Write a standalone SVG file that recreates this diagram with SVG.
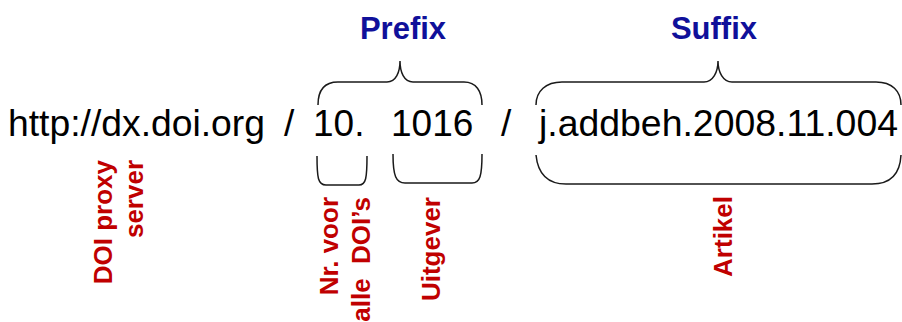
<svg xmlns="http://www.w3.org/2000/svg" width="902" height="322" viewBox="0 0 902 322">
<style>
.main{font-family:"Liberation Sans",Arial,sans-serif;font-size:37px;fill:#000}
.head{font-family:"Liberation Sans",Arial,sans-serif;font-size:31px;font-weight:bold;fill:#10109A;text-anchor:middle}
.lab{font-family:"Liberation Sans",Arial,sans-serif;font-size:26px;font-weight:bold;fill:#C00000;text-anchor:end}
.brace{fill:none;stroke:#1a1a1a;stroke-width:1.5}
</style>
<rect width="902" height="322" fill="#fff"/>
<g id="url">
<text class="main" x="8" y="136" textLength="257" lengthAdjust="spacingAndGlyphs">http://dx.doi.org</text>
<text class="main" x="284" y="136">/</text>
<text class="main" x="313" y="136">10.</text>
<text class="main" x="391" y="136">1016</text>
<text class="main" x="501" y="136">/</text>
<text class="main" x="539" y="136" textLength="359" lengthAdjust="spacingAndGlyphs">j.addbeh.2008.11.004</text>
</g>
<g id="prefix"><text class="head" x="403" y="39">Prefix</text></g>
<g id="suffix"><text class="head" x="714" y="39">Suffix</text></g>
<g id="proxy"><text class="lab" transform="translate(112,160) rotate(-90)">DOI proxy</text><text class="lab" transform="translate(143,160) rotate(-90)">server</text></g>
<g id="nr"><text class="lab" transform="translate(338,197) rotate(-90)">Nr. voor</text><text class="lab" transform="translate(370,197) rotate(-90)">alle&#160; DOI’s</text></g>
<g id="uitgever"><text class="lab" transform="translate(440,197) rotate(-90)">Uitgever</text></g>
<g id="artikel"><text class="lab" transform="translate(732,196) rotate(-90)">Artikel</text></g>
<g id="connectors">
<path class="brace" d="M318,105 C318,91 324,82 338,82 L387,82 C396,82 400,72 400,61 C400,72 404,82 413,82 L464,82 C476,82 482,91 482,105"/>
<path class="brace" d="M536,105 C536,91 546,82 562,82 L704,82 C713,82 718,72 718,61 C718,72 723,82 732,82 L876,82 C892,82 901,91 901,105"/>
<path class="brace" d="M317,156 C317,178 318,185 326,185 L359,185 C366,185 367,178 367,156"/>
<path class="brace" d="M393,154 C393,176 396,183 405,183 L472,183 C480,183 482,176 482,154"/>
<path class="brace" d="M536,155 C538,175 548,184 566,184 L872,184 C890,184 900,175 901,155"/>
</g>
</svg>
